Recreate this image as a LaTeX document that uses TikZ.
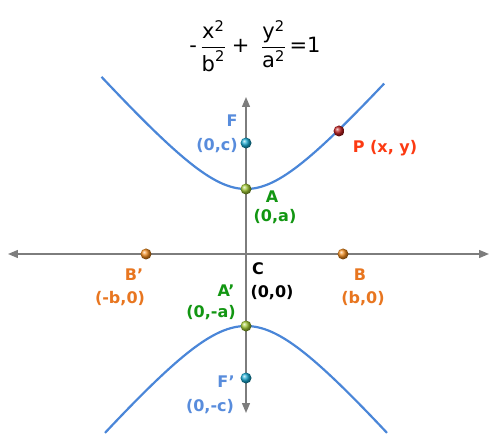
\documentclass[tikz,border=0pt]{standalone}
\usepackage{amsmath}
\usepackage{fontspec}
\setmainfont{DejaVu Sans}
\usetikzlibrary{arrows.meta, positioning}
\definecolor{CurveBlue}{RGB}{74,134,216}
\definecolor{AxisGray}{RGB}{125,125,125}
\definecolor{FocusBlue}{RGB}{88,140,220}
\definecolor{VertexGreen}{RGB}{18,150,18}
\definecolor{CoVertexOrange}{RGB}{232,118,32}
\definecolor{PointRed}{RGB}{252,58,18}
\definecolor{FocusCyan}{RGB}{25,170,210}
\definecolor{VertexLime}{RGB}{160,200,50}
\definecolor{CoVertexBall}{RGB}{242,140,30}
\definecolor{PointBall}{RGB}{190,30,30}
\tikzset{
	sphere/.style={circle, inner sep=0pt, minimum size=11pt, ball color=#1},
	lab/.style={font=\fontsize{16}{18}\selectfont\bfseries, text=#1, inner sep=0pt},
	axisline/.style={draw=AxisGray, line width=1.3pt,
		{Triangle[length=10pt,width=8pt]}-{Triangle[length=10pt,width=8pt]}},
	branch/.style={draw=CurveBlue, line width=2.2pt, smooth, samples=80}
}
\newcommand{\tx}[1]{\text{#1}}

\begin{document}
\begin{tikzpicture}[x=1pt, y=1pt]
	\useasboundingbox (-246,-179) rectangle (243,254);
	% axes
	\coordinate (west) at (-238,0);
	\coordinate (east) at (243,0);
	\coordinate (north) at (0,157);
	\coordinate (south) at (0,-159);
	\draw[axisline] (west) -- (east);
	\draw[axisline] (north) -- (south);
	% the two branches
	\draw[branch, domain=-1.66:1.62] plot ({57*sinh(\x)}, {65*cosh(\x)});
	\draw[branch, domain=-1.56:1.56] plot ({62*sinh(\x)}, {-72*cosh(\x)});
	% equation
	\node (eq) at (9,208) {\fontsize{21}{25}\selectfont
		$\displaystyle \tx{-}\,\frac{\tx{x}^{\tx{2}}}{\tx{b}^{\tx{2}}}\;\tx{+}\;\;\frac{\tx{y}^{\tx{2}}}{\tx{a}^{\tx{2}}}\,\tx{=}\tx{1}$};
	% points
	\foreach \nm/\x/\y/\col in {
		F/0/111/FocusCyan, Fp/0/-124/FocusCyan,
		A/0/65/VertexLime, Ap/0/-72/VertexLime,
		B/97/0/CoVertexBall, Bp/-100/0/CoVertexBall,
		P/93/123/PointBall}{
		\node[sphere=\col] (\nm) at (\x,\y) {};
	}
	% labels
	\foreach \nm/\x/\y/\col/\txt in {
		Fname/-14/133/FocusBlue/F, Fco/-29/108/FocusBlue/{(0,c)},
		Fpname/-20/-128/FocusBlue/{F’}, Fpco/-36/-153/FocusBlue/{(0,-c)},
		Aname/26/57/VertexGreen/A, Aco/29/37/VertexGreen/{(0,a)},
		Apname/-20/-37/VertexGreen/{A’}, Apco/-35/-59/VertexGreen/{(0,-a)},
		Bname/114/-21/CoVertexOrange/B, Bco/117/-45/CoVertexOrange/{(b,0)},
		Bpname/-112/-21/CoVertexOrange/{B’}, Bpco/-126/-45/CoVertexOrange/{(-b,0)},
		Cname/12/-15/black/C, Cco/26/-39/black/{(0,0)},
		Pname/139/106/PointRed/{P (x, y)}}{
		\node[lab=\col] (\nm) at (\x,\y) {\txt};
	}
\end{tikzpicture}
\end{document}
